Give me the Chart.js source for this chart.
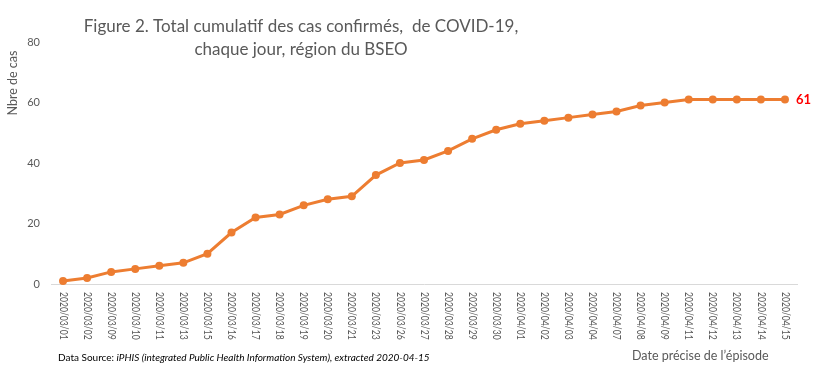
<!DOCTYPE html>
<html>
<head>
<meta charset="utf-8">
<script src="https://cdn.jsdelivr.net/npm/chart.js@4/dist/chart.umd.min.js"></script>
<style>
    html, body { margin: 0; padding: 0; background: #ffffff; }
    #wrap { width: 825px; height: 370px; }
</style>
</head>
<body>
<div id="wrap"><canvas id="casesChart" width="825" height="370"></canvas></div>
<script>
// Dates of the episodes (x axis)
const dateLabels = [
    "2020/03/01", "2020/03/02", "2020/03/09", "2020/03/10", "2020/03/11", "2020/03/13",
    "2020/03/15", "2020/03/16", "2020/03/17", "2020/03/18", "2020/03/19", "2020/03/20",
    "2020/03/21", "2020/03/23", "2020/03/26", "2020/03/27", "2020/03/28", "2020/03/29",
    "2020/03/30", "2020/04/01", "2020/04/02", "2020/04/03", "2020/04/04", "2020/04/07",
    "2020/04/08", "2020/04/09", "2020/04/11", "2020/04/12", "2020/04/13", "2020/04/14",
    "2020/04/15"
];
// Cumulative confirmed cases
const cumulativeCases = [
    1, 2, 4, 5, 6, 7,
    10, 17, 22, 23, 26, 28,
    29, 36, 40, 41, 44, 48,
    51, 53, 54, 55, 56, 57,
    59, 60, 61, 61, 61, 61,
    61
];
const yTicks = [0, 20, 40, 60, 80];

const titleLines = [
    "Figure 2. Total cumulatif des cas confirmés,  de COVID-19,",
    "chaque jour, région du BSEO"
];
const FONT = "Lato, 'Open Sans', sans-serif";
const GREY = "#595959";

// Draws the texts that Excel puts in odd places
const overlayText = {
    id: "overlayText",
    afterDraw(chart) {
        const ctx = chart.ctx;
        const xScale = chart.scales.x;
        ctx.save();

        // title
        ctx.fillStyle = GREY;
        ctx.font = "17px " + FONT;
        ctx.textAlign = "center";
        ctx.textBaseline = "middle";
        ctx.fillText(titleLines[0], 301, 27);
        ctx.fillText(titleLines[1], 301, 50);

        // y axis title
        ctx.save();
        ctx.translate(13, 83);
        ctx.rotate(-Math.PI / 2);
        ctx.font = "12.5px " + FONT;
        ctx.fillText("Nbre de cas", 0, 0);
        ctx.restore();

        // x tick labels, read top to bottom (a bit narrow, like Calibri)
        ctx.font = "10.5px " + FONT;
        ctx.textAlign = "left";
        dateLabels.forEach((lab, i) => {
            ctx.save();
            ctx.translate(xScale.getPixelForValue(i), 292);
            ctx.rotate(Math.PI / 2);
            ctx.scale(0.82, 1);
            ctx.fillText(lab, 0, 0);
            ctx.restore();
        });

        // last value label
        const meta = chart.getDatasetMeta(0);
        const last = meta.data[meta.data.length - 1];
        ctx.fillStyle = "#ff0000";
        ctx.font = "bold 13px " + FONT;
        ctx.textAlign = "left";
        ctx.fillText(String(cumulativeCases[cumulativeCases.length - 1]), last.x + 11, last.y);

        // footer
        ctx.fillStyle = "#000000";
        ctx.font = "10px " + FONT;
        ctx.textAlign = "left";
        const src = "Data Source: ";
        ctx.fillText(src, 58, 358);
        const w = ctx.measureText(src).width;
        ctx.font = "italic 10px " + FONT;
        ctx.fillText("iPHIS (integrated Public Health Information System), extracted 2020-04-15", 58 + w, 358);

        ctx.fillStyle = GREY;
        ctx.font = "12.5px " + FONT;
        ctx.fillText("Date précise de l\u2019épisode", 632, 356);

        ctx.restore();
    }
};

new Chart(document.getElementById("casesChart"), {
    type: "line",
    data: {
        labels: dateLabels,
        datasets: [{
            label: "Cas cumulatifs",
            data: cumulativeCases,
            borderColor: "#ED7D31",
            backgroundColor: "#ED7D31",
            borderWidth: 3,
            pointRadius: 4,
            pointHoverRadius: 4,
            pointBorderWidth: 0,
            tension: 0,
            clip: false
        }]
    },
    options: {
        responsive: false,
        animation: false,
        layout: {
            padding: { top: 42, right: 28, bottom: 0, left: 0 }
        },
        plugins: {
            legend: { display: false },
            title: { display: false },
            tooltip: { enabled: false }
        },
        scales: {
            x: {
                offset: true,
                grid: { display: false, drawTicks: false },
                border: { display: true, color: "#d9d9d9", width: 1 },
                ticks: { display: false },
                afterFit(scale) { scale.height = 86; }
            },
            y: {
                min: 0,
                max: 80,
                grid: { display: false, drawTicks: false },
                border: { display: false },
                afterBuildTicks(scale) {
                    scale.ticks = yTicks.map(v => ({ value: v }));
                },
                ticks: {
                    color: GREY,
                    padding: 11,
                    font: { family: FONT, size: 11 }
                },
                afterFit(scale) { scale.width = 51; }
            }
        }
    },
    plugins: [overlayText]
});
</script>
</body>
</html>
